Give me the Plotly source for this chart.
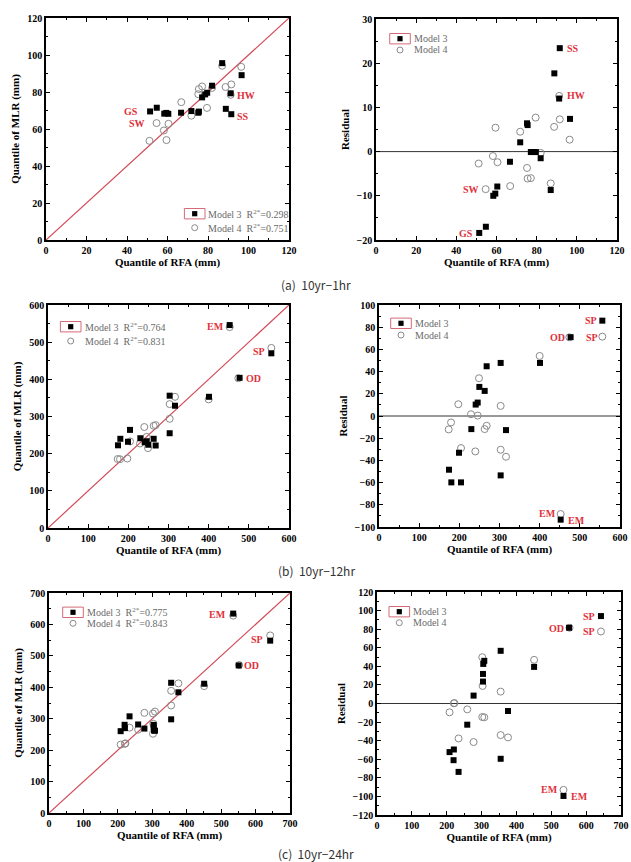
import plotly.graph_objects as go

W, H = 631, 862

# ---------------- data ----------------
# (a) 10yr-1hr
a_rfa3 = [51.4, 54.7, 58.4, 59.4, 60.4, 66.7, 71.8, 75.2, 75.5, 77.1, 78.6, 79.6, 82.0, 87.0, 88.8, 91.2, 91.5, 96.6]
a_mlr3 = [69.5, 71.5, 68.3, 68.7, 68.2, 68.8, 69.7, 68.8, 69.4, 77.1, 78.7, 79.6, 83.4, 95.6, 70.9, 79.3, 68.0, 89.1]
a_res3 = [-18.4, -17.0, -10.0, -9.5, -7.9, -2.3, 2.1, 6.4, 6.0, -0.1, -0.1, -0.1, -1.5, -8.7, 17.7, 12.0, 23.4, 7.4]
a_rfa4 = [51.1, 54.6, 58.2, 59.5, 60.5, 66.8, 71.8, 75.2, 75.5, 77.1, 79.5, 82.0, 87.0, 88.7, 91.5, 91.2, 96.4]
a_mlr4 = [53.6, 63.2, 59.2, 54.0, 62.8, 74.5, 67.2, 78.8, 81.6, 83.0, 71.4, 82.2, 94.2, 82.7, 84.1, 78.5, 93.6]
a_res4 = [-2.7, -8.5, -1.0, 5.4, -2.4, -7.8, 4.5, -3.7, -6.1, -6.0, 7.7, -0.3, -7.2, 5.6, 7.3, 12.6, 2.7]

# (b) 10yr-12hr
b_rfa3 = [174.3, 180.1, 199.2, 204.2, 229.9, 240.7, 245.7, 249.8, 263.1, 268.0, 302.9, 302.9, 316.2, 400.8, 452.3, 477.0, 556.0]
b_mlr3 = [222.5, 240.0, 232.0, 264.0, 241.5, 230.5, 233.5, 224.0, 240.0, 222.0, 356.0, 255.0, 329.0, 353.0, 546.0, 404.0, 470.0]
b_res3 = [-48.4, -59.8, -33.1, -59.8, -11.8, 10.3, 12.1, 26.2, 22.6, 44.8, -53.5, 47.8, -12.7, 47.8, -93.4, 71.0, 85.9]
b_rfa4 = [173.5, 179.3, 197.5, 204.2, 229.0, 239.8, 245.7, 249.0, 263.1, 268.0, 302.9, 302.9, 316.2, 400.0, 452.3, 473.9, 556.0]
b_mlr4 = [185.6, 185.0, 187.0, 233.0, 227.4, 271.7, 245.3, 215.0, 275.0, 276.8, 293.8, 333.3, 353.0, 346.0, 540.6, 403.0, 484.5]
b_res4 = [-12.1, -5.8, 10.6, -28.9, 1.6, -31.9, 0.4, 34.0, -11.8, -8.8, 9.1, -30.4, -36.7, 54.1, -88.3, 70.9, 71.5]

# (c) 10yr-24hr
c_rfa3 = [208.1, 219.6, 220.5, 234.0, 258.9, 277.1, 304.0, 304.0, 304.9, 307.8, 354.8, 354.8, 375.9, 450.7, 535.0, 551.0, 642.5]
c_mlr3 = [260.4, 280.6, 270.0, 307.6, 281.7, 268.6, 272.2, 280.4, 262.3, 261.9, 414.3, 298.1, 384.0, 411.3, 634.5, 469.5, 548.4]
c_res3 = [-52.3, -61.0, -49.5, -73.6, -22.8, 8.5, 31.8, 23.6, 42.6, 45.9, -59.5, 56.7, -8.1, 39.4, -99.5, 81.5, 94.1]
c_rfa4 = [208.1, 220.5, 222.0, 234.0, 258.9, 277.1, 302.0, 302.0, 303.0, 307.8, 354.8, 354.8, 375.9, 450.7, 535.0, 552.3, 642.5]
c_mlr4 = [217.6, 220.3, 221.5, 271.6, 265.2, 318.6, 252.2, 316.6, 284.1, 322.7, 342.0, 388.8, 412.4, 403.7, 628.0, 470.8, 565.0]
c_res4 = [-9.5, 0.2, 0.5, -37.6, -6.3, -41.5, 49.8, -14.6, 18.9, -14.9, 12.8, -34.0, -36.5, 47.0, -93.0, 81.5, 77.5]

r2_model3 = ["0.298", "0.764", "0.775"]
r2_model4 = ["0.751", "0.831", "0.843"]
captions = ["(a)  10yr\u22121hr", "(b)  10yr\u221212hr", "(c)  10yr\u221224hr"]

# ---------------- styling ----------------
SERIF = "Liberation Serif"
RED = "#e0323c"
LINE_RED = "#d24a56"


def px_x(p):
    return p / W


def px_y(p):
    return 1 - p / H


fig = go.Figure()

# panel boxes in pixels: (left, right, top, bottom)
boxes = [
    (46, 289, 18, 240), (376, 617, 19, 240),
    (48, 289, 305, 528), (379, 620, 305, 527),
    (49, 290, 593, 813), (377, 621, 592, 815),
]
xranges = [[0, 120], [0, 120], [0, 600], [0, 600], [0, 700], [0, 700]]
yranges = [[0, 120], [-20, 30], [0, 600], [-100, 100], [0, 700], [-120, 120]]
xdt = [20, 20, 100, 100, 100, 100]
ydt = [20, 10, 100, 20, 100, 20]
ytitles = ["Quantile of MLR (mm)", "Residual"] * 3

layout_axes = {}
for i, (l, r, t, b) in enumerate(boxes):
    n = "" if i == 0 else str(i + 1)
    common = dict(
        showline=True, linecolor="black", linewidth=1.5, mirror="ticks",
        ticks="inside", ticklen=4, tickwidth=1, tickcolor="black",
        showgrid=False, zeroline=False, automargin=False,
        tickfont=dict(family=SERIF, size=10, color="black", weight="bold"),
    )
    layout_axes["xaxis" + n] = dict(
        common, domain=[px_x(l), px_x(r)], range=xranges[i], dtick=xdt[i],
        anchor="y" + n,
        minor=dict(ticks="inside", ticklen=2, dtick=xdt[i] / 2, tickcolor="black"),
        title=dict(text="Quantile of RFA (mm)", standoff=4,
                   font=dict(family=SERIF, size=11, color="black", weight="bold")),
    )
    layout_axes["yaxis" + n] = dict(
        common, domain=[px_y(b), px_y(t)], range=yranges[i], dtick=ydt[i],
        anchor="x" + n,
        minor=dict(ticks="inside", ticklen=2, dtick=ydt[i] / 2, tickcolor="black"),
        title=dict(text=ytitles[i], standoff=5,
                   font=dict(family=SERIF, size=11, color="black", weight="bold")),
    )

periods = [
    (a_rfa3, a_mlr3, a_res3, a_rfa4, a_mlr4, a_res4),
    (b_rfa3, b_mlr3, b_res3, b_rfa4, b_mlr4, b_res4),
    (c_rfa3, c_mlr3, c_res3, c_rfa4, c_mlr4, c_res4),
]

m3 = dict(symbol="square", color="black", size=6)
m4 = dict(symbol="circle-open", color="#8a8a8a", size=7, line=dict(width=1))

for k, (rfa3, mlr3, res3, rfa4, mlr4, res4) in enumerate(periods):
    nq = "" if 2 * k == 0 else str(2 * k + 1)
    nr = str(2 * k + 2)
    mx = xranges[2 * k][1]
    # 1:1 line
    fig.add_trace(go.Scatter(x=[0, mx], y=[0, mx], mode="lines",
                             line=dict(color=LINE_RED, width=1.2),
                             xaxis="x" + nq, yaxis="y" + nq, showlegend=False))
    fig.add_trace(go.Scatter(x=rfa4, y=mlr4, mode="markers", marker=m4,
                             xaxis="x" + nq, yaxis="y" + nq, showlegend=False))
    fig.add_trace(go.Scatter(x=rfa3, y=mlr3, mode="markers", marker=m3,
                             xaxis="x" + nq, yaxis="y" + nq, showlegend=False))
    # zero line
    fig.add_trace(go.Scatter(x=[0, mx], y=[0, 0], mode="lines",
                             line=dict(color="#333333", width=1),
                             xaxis="x" + nr, yaxis="y" + nr, showlegend=False))
    fig.add_trace(go.Scatter(x=rfa4, y=res4, mode="markers", marker=m4,
                             xaxis="x" + nr, yaxis="y" + nr, showlegend=False))
    fig.add_trace(go.Scatter(x=rfa3, y=res3, mode="markers", marker=m3,
                             xaxis="x" + nr, yaxis="y" + nr, showlegend=False))

annotations = []
shapes = []

# station labels: (panel index, text, x, y, xanchor)
labels = [
    (0, "GS", 46.5, 69.5, "right"), (0, "SW", 50.0, 62.8, "right"),
    (0, "HW", 93.5, 78.0, "left"), (0, "SS", 93.5, 66.8, "left"),
    (1, "SS", 94.3, 23.4, "left"), (1, "HW", 94.3, 12.6, "left"),
    (1, "SW", 52.3, -8.5, "right"), (1, "GS", 49.3, -18.5, "right"),
    (2, "EM", 442, 543, "right"), (2, "SP", 545, 474, "right"), (2, "OD", 489, 403, "left"),
    (3, "SP", 548, 86, "right"), (3, "OD", 468, 71, "right"), (3, "SP", 550, 71, "right"),
    (3, "EM", 446, -88, "right"), (3, "EM", 466, -94, "left"),
    (4, "EM", 520, 631, "right"), (4, "SP", 628, 552, "right"), (4, "OD", 562, 469, "left"),
    (5, "SP", 630, 94, "right"), (5, "OD", 542, 81, "right"), (5, "SP", 630, 77, "right"),
    (5, "EM", 526, -93, "right"), (5, "EM", 552, -100, "left"),
]
for (pi, txt, x, y, xa) in labels:
    n = "" if pi == 0 else str(pi + 1)
    annotations.append(dict(
        text=txt, x=x, y=y, xref="x" + n, yref="y" + n, xanchor=xa, yanchor="middle",
        showarrow=False,
        font=dict(family=SERIF, size=10, color=RED, weight="bold"),
    ))

# legends: (sq_x, sq_y, circ_y, text_x) in pixels
legends = [
    (194.7, 213.7, 227.7, 206.0),
    (400.0, 38.7, 50.0, 412.0),
    (70.7, 326.7, 341.0, 82.5),
    (401.0, 323.3, 335.0, 412.5),
    (73.0, 612.3, 623.3, 84.5),
    (399.3, 611.7, 622.7, 410.5),
]
for i, (sx, sy, cy, tx) in enumerate(legends):
    k = i // 2
    if i % 2 == 0:
        t3 = "Model 3  R<sup>2*</sup>=" + r2_model3[k]
        t4 = "Model 4  R<sup>2*</sup>=" + r2_model4[k]
    else:
        t3 = "Model 3"
        t4 = "Model 4"
    shapes.append(dict(type="rect", xref="paper", yref="paper",
                       x0=px_x(sx - 10.3), x1=px_x(sx + 10.3),
                       y0=px_y(sy + 5.2), y1=px_y(sy - 5.2),
                       line=dict(color="#d56a78", width=1), fillcolor="rgba(0,0,0,0)"))
    shapes.append(dict(type="rect", xref="paper", yref="paper",
                       x0=px_x(sx - 2.6), x1=px_x(sx + 2.6),
                       y0=px_y(sy + 2.6), y1=px_y(sy - 2.6),
                       line=dict(color="black", width=0), fillcolor="black"))
    shapes.append(dict(type="circle", xref="paper", yref="paper",
                       x0=px_x(sx - 3), x1=px_x(sx + 3),
                       y0=px_y(cy + 3), y1=px_y(cy - 3),
                       line=dict(color="#8a8a8a", width=1), fillcolor="rgba(0,0,0,0)"))
    for t, yy in ((t3, sy), (t4, cy)):
        annotations.append(dict(
            text=t, x=px_x(tx), y=px_y(yy), xref="paper", yref="paper",
            xanchor="left", yanchor="middle", showarrow=False,
            font=dict(family=SERIF, size=10, color="#6a6a6a"),
        ))

# captions
for cap, cy in zip(captions, [285, 570, 853]):
    annotations.append(dict(
        text=cap, x=px_x(316), y=px_y(cy), xref="paper", yref="paper",
        xanchor="center", yanchor="middle", showarrow=False,
        font=dict(family="Noto Sans CJK KR", size=12, color="#333333"),
    ))

fig.update_layout(
    width=W, height=H, margin=dict(l=0, r=0, t=0, b=0),
    paper_bgcolor="white", plot_bgcolor="white",
    showlegend=False, annotations=annotations, shapes=shapes,
    **layout_axes,
)

fig.write_html("out.html")
